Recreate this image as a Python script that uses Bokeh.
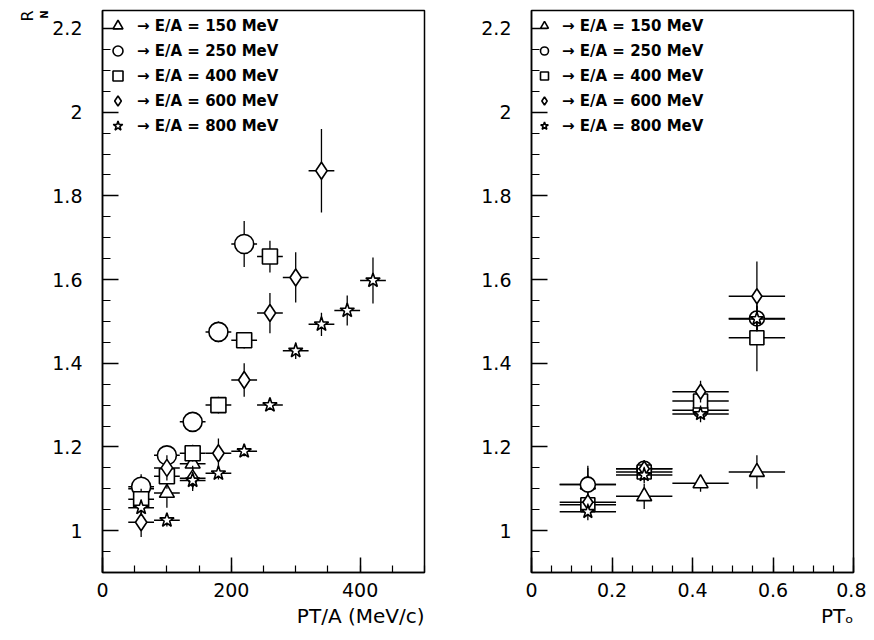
import numpy as np
from bokeh.plotting import figure
from bokeh.layouts import row
from bokeh.models import (Range1d, Legend, LegendItem, Title, FixedTicker,
                          ColumnDataSource)
from bokeh.embed import file_html
from bokeh.resources import INLINE

# ---------------- data ----------------
labels = ["\u2192 E/A = 150 MeV", "\u2192 E/A = 250 MeV", "\u2192 E/A = 400 MeV",
          "\u2192 E/A = 600 MeV", "\u2192 E/A = 800 MeV"]
markers = ["triangle", "circle", "square", "diamond", "star"]

# left panel: R_N vs PT/A (MeV/c)
left_halfbin = 20
l150_x = [60, 100, 140]
l150_y = [1.10, 1.09, 1.16]
l150_e = [0.03, 0.035, 0.03]
l250_x = [60, 100, 140, 180, 220]
l250_y = [1.105, 1.18, 1.26, 1.475, 1.685]
l250_e = [0.03, 0.02, 0.015, 0.025, 0.055]
l400_x = [60, 100, 140, 180, 220, 260]
l400_y = [1.075, 1.13, 1.185, 1.30, 1.455, 1.655]
l400_e = [0.025, 0.03, 0.02, 0.02, 0.02, 0.038]
l600_x = [60, 100, 140, 180, 220, 260, 300, 340]
l600_y = [1.02, 1.15, 1.125, 1.185, 1.36, 1.52, 1.605, 1.86]
l600_e = [0.035, 0.03, 0.03, 0.035, 0.04, 0.048, 0.06, 0.1]
l800_x = [60, 100, 140, 180, 220, 260, 300, 340, 380, 420]
l800_y = [1.055, 1.025, 1.12, 1.137, 1.19, 1.30, 1.43, 1.493, 1.526, 1.598]
l800_e = [0.02, 0.015, 0.02, 0.015, 0.012, 0.01, 0.02, 0.028, 0.036, 0.055]

# right panel: R_N vs PT_o
right_halfbin = 0.07
r_x = [0.14, 0.28, 0.42, 0.56]
r150_y = [1.11, 1.082, 1.113, 1.14]
r150_e = [0.045, 0.03, 0.02, 0.04]
r250_y = [1.11, 1.148, 1.288, 1.507]
r250_e = [0.04, 0.02, 0.02, 0.03]
r400_y = [1.062, 1.14, 1.31, 1.461]
r400_e = [0.02, 0.02, 0.02, 0.08]
r600_y = [1.068, 1.148, 1.332, 1.56]
r600_e = [0.02, 0.02, 0.026, 0.083]
r800_y = [1.045, 1.133, 1.279, 1.506]
r800_e = [0.02, 0.02, 0.02, 0.03]

y_ticks = [1.0, 1.2, 1.4, 1.6, 1.8, 2.0, 2.2]
y_tick_labels = ["1", "1.2", "1.4", "1.6", "1.8", "2", "2.2"]
y_minor = [round(0.9 + 0.05 * i, 2) for i in range(28)]
lx_ticks = [0, 200, 400]
lx_tick_labels = ["0", "200", "400"]
lx_minor = [50 * i for i in range(11)]
rx_ticks = [0.0, 0.2, 0.4, 0.6, 0.8]
rx_tick_labels = ["0", "0.2", "0.4", "0.6", "0.8"]
rx_minor = [round(0.05 * i, 2) for i in range(17)]

Y_START, Y_END = 0.9, 2.243

left_series = [(l150_x, l150_y, l150_e), (l250_x, l250_y, l250_e),
               (l400_x, l400_y, l400_e), (l600_x, l600_y, l600_e),
               (l800_x, l800_y, l800_e)]
right_series = [(r_x, r150_y, r150_e), (r_x, r250_y, r250_e),
                (r_x, r400_y, r400_e), (r_x, r600_y, r600_e),
                (r_x, r800_y, r800_e)]

FONT = "DejaVu Sans"


def make_panel(width, border_left, border_right, xr, xticks, xlabels, xminor,
               series, halfbin, sizes, legend_glyph_w, legend_standoff):
    p = figure(width=width, height=632, output_backend="svg",
               toolbar_location=None, x_range=Range1d(*xr),
               y_range=Range1d(Y_START, Y_END),
               min_border_left=border_left, min_border_right=border_right,
               min_border_top=10, min_border_bottom=60)
    p.grid.visible = False
    p.outline_line_color = "black"
    p.outline_line_width = 1.5
    p.background_fill_color = "white"

    p.xaxis.ticker = FixedTicker(ticks=xticks, minor_ticks=xminor)
    p.xaxis.major_label_overrides = {t: l for t, l in zip(xticks, xlabels)}
    p.yaxis.ticker = FixedTicker(ticks=y_ticks, minor_ticks=y_minor)
    p.yaxis.major_label_overrides = {t: l for t, l in zip(y_ticks, y_tick_labels)}
    for ax in (p.xaxis, p.yaxis):
        ax.major_tick_out = 0
        ax.minor_tick_out = 0
        ax.axis_line_width = 1.5
        ax.major_tick_line_width = 1.5
        ax.minor_tick_line_width = 1.2
        ax.major_label_text_font = FONT
        ax.major_label_text_font_size = "19px"
        ax.major_label_text_color = "black"
        ax.axis_line_color = "black"
    p.xaxis.major_tick_in = 15
    p.xaxis.minor_tick_in = 7
    p.yaxis.major_tick_in = 16
    p.yaxis.minor_tick_in = 8
    p.yaxis.major_label_standoff = 20
    p.xaxis.major_label_standoff = 10

    items = []
    for (xs, ys, es), mk, lab, sz in zip(series, markers, labels, sizes):
        xs = np.asarray(xs, dtype=float)
        ys = np.asarray(ys, dtype=float)
        es = np.asarray(es, dtype=float)
        src = ColumnDataSource(dict(x=xs, y=ys, ylo=ys - es, yhi=ys + es,
                                    xlo=xs - halfbin, xhi=xs + halfbin))
        p.segment(x0="x", y0="ylo", x1="x", y1="yhi", source=src,
                  line_color="black", line_width=1.3)
        p.segment(x0="xlo", y0="y", x1="xhi", y1="y", source=src,
                  line_color="black", line_width=1.5)
        r = p.scatter(x="x", y="y", source=src, marker=mk, size=sz,
                      fill_color="white", line_color="black", line_width=1.6)
        items.append(LegendItem(label=lab, renderers=[r]))

    legend = Legend(items=items, location="top_left", margin=0, padding=3,
                    spacing=0, glyph_height=25, glyph_width=legend_glyph_w,
                    label_height=25, label_standoff=legend_standoff,
                    label_text_font=FONT, label_text_font_style="bold",
                    label_text_font_size="15px", label_text_color="black",
                    border_line_alpha=0, background_fill_alpha=0)
    p.add_layout(legend)
    return p


left = make_panel(478, 102, 54, (0, 500), lx_ticks, lx_tick_labels, lx_minor,
                  left_series, left_halfbin, [15, 19, 15, 17, 15], 25, 7)
right = make_panel(388, 52, 13, (0, 0.8), rx_ticks, rx_tick_labels, rx_minor,
                   right_series, right_halfbin, [15, 15, 14, 15, 14], 20, 8)

# axis titles
left.add_layout(Title(text="PT/A (MeV/c)", align="right", text_font=FONT,
                      text_font_size="20px", text_font_style="normal",
                      text_color="black", standoff=4), "below")
right.add_layout(Title(text="PT\u2092", align="right", text_font=FONT,
                       text_font_size="20px", text_font_style="normal",
                       text_color="black", standoff=4), "below")
left.add_layout(Title(text="N", align="right", text_font=FONT,
                      text_font_size="10px", text_font_style="bold",
                      text_color="black", standoff=0, offset=0), "left")
left.add_layout(Title(text="R", align="right", text_font=FONT,
                      text_font_size="16px", text_font_style="normal",
                      text_color="black", standoff=0, offset=0), "left")

layout = row(left, right)
open("out.html", "w").write(file_html(layout, INLINE))
